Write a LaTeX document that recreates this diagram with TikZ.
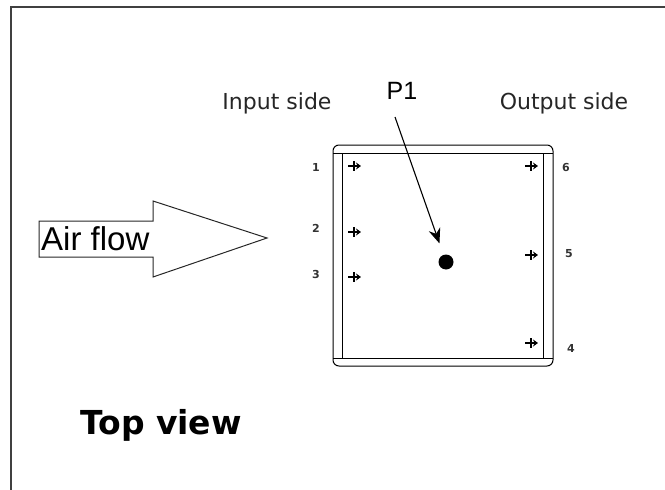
\documentclass[tikz,border=0pt]{standalone}
\usepackage{fontspec}
\setmainfont{Liberation Sans}
\newfontfamily\tahoma{DejaVu Sans}
\usetikzlibrary{arrows.meta,positioning}
\tikzset{frame/.style={draw=black!75,line width=1.6pt},wall/.style={draw=black,line width=1pt},side/.style={font=\tahoma\fontsize{22}{24}\selectfont,text=black!85,inner sep=0pt},lbl/.style={font=\fontsize{25}{27}\selectfont,inner sep=0pt},num/.style={font=\tahoma\bfseries\fontsize{11}{12}\selectfont,text=black!80,inner sep=0pt},arr/.style={-{Stealth[length=15pt,width=12pt]},draw=black,line width=1.1pt},vent/.pic={\draw[line width=1.3pt] (-1,-5)--(-1,5); \draw[line width=1.3pt,-{Stealth[length=5pt,width=7pt]}] (-7,0)--(6,0);}}

\begin{document}
\begin{tikzpicture}[x=1pt,y=-1pt]
\useasboundingbox (0,0) rectangle (665,490);
\draw[frame] (11,490)--(11,7)--(665,7);
% air flow arrow
\draw[wall,draw=black!85] (39,221)--(153,221)--(153,201)--(267,238)--(153,277)--(153,257)--(39,257)--cycle;
\node[lbl,font=\fontsize{33}{35}\selectfont,anchor=west] (air) at (41,239) {Air flow};
% chamber
\draw[wall,rounded corners=6pt] (333,145) rectangle (553,366);
\draw[wall] (333,153)--(553,153); \draw[wall] (333,358)--(553,358);
\draw[wall] (342,153)--(342,358); \draw[wall] (543,153)--(543,358);
\node[side] (in) at (277,103) {Input side};
\node[side] (out) at (564,103) {Output side};
\node[lbl] (p1) at (402,91) {P1};
\node[circle,fill=black,inner sep=0pt,minimum size=15pt] (dot) at (446,262) {};
\coordinate (tail) at (395,117);
\draw[arr,shorten >=12pt] (tail) -- (dot);
% sensor points
\pic at (355,166) {vent}; \pic at (355,232) {vent}; \pic at (355,277) {vent};
\pic at (532,166) {vent}; \pic at (532,255) {vent}; \pic at (532,343) {vent};
\node[num] (n1) at (316,167) {1}; \node[num] (n2) at (316,228) {2}; \node[num] (n3) at (316,274) {3};
\node[num] (n6) at (566,167) {6}; \node[num] (n5) at (569,254) {5}; \node[num] (n4) at (571,348) {4};
\node[font=\tahoma\bfseries\fontsize{33}{36}\selectfont,inner sep=0pt] (top) at (161,425) {Top view};
\end{tikzpicture}
\end{document}
